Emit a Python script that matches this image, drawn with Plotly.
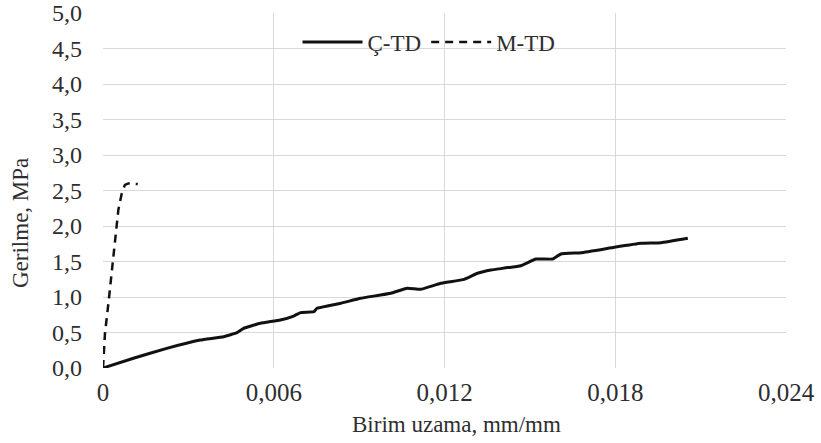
import plotly.graph_objects as go

# Ç-TD series (strain, stress)
ctd_strain = [0, 0.00107, 0.00224, 0.00342, 0.00424, 0.00471, 0.00494, 0.00553, 0.00623,
              0.00670, 0.00694, 0.00741, 0.00752, 0.00835, 0.00905, 0.01011, 0.01069,
              0.01116, 0.01187, 0.01269, 0.01316, 0.01363, 0.01468, 0.01521, 0.01580,
              0.01609, 0.01680, 0.01797, 0.01891, 0.01961, 0.02055]
ctd_stress = [0, 0.137, 0.277, 0.394, 0.441, 0.497, 0.559, 0.630, 0.676,
              0.732, 0.780, 0.793, 0.841, 0.911, 0.982, 1.052, 1.123,
              1.108, 1.193, 1.249, 1.334, 1.380, 1.441, 1.535, 1.535,
              1.606, 1.624, 1.700, 1.756, 1.765, 1.827]

# M-TD series
mtd_strain = [0, 0.00007, 0.00019, 0.00031, 0.00042, 0.00054, 0.00066, 0.00077, 0.00089, 0.00122]
mtd_stress = [0, 0.49, 0.91, 1.38, 1.85, 2.23, 2.46, 2.58, 2.60, 2.59]

x_tickvals = [0, 0.006, 0.012, 0.018, 0.024]
x_ticktext = ["0", "0,006", "0,012", "0,018", "0,024"]
y_tickvals = [0, 0.5, 1.0, 1.5, 2.0, 2.5, 3.0, 3.5, 4.0, 4.5, 5.0]

FONT = "Liberation Serif, Times New Roman, serif"
TXT = "#2e2e2e"

fig = go.Figure()
fig.add_trace(go.Scatter(x=ctd_strain, y=ctd_stress, mode="lines", name="Ç-TD",
                         line=dict(color="#111111", width=3, shape="spline", smoothing=0.3)))
fig.add_trace(go.Scatter(x=mtd_strain, y=mtd_stress, mode="lines", name="M-TD",
                         line=dict(color="#111111", width=2.5, dash="8px,6px")))

L, R, T, B = 103, 35, 13, 75
PW, PH = 821 - L - R, 443 - T - B

fig.update_layout(
    width=821, height=443,
    margin=dict(l=L, r=R, t=T, b=B),
    paper_bgcolor="white", plot_bgcolor="white",
    font=dict(family=FONT, size=23, color=TXT),
    separators=",.",
    showlegend=True,
    legend=dict(orientation="h", x=(429 - L) / PW, y=(368 - 42) / PH, xanchor="center", yanchor="middle",
                bgcolor="rgba(255,255,255,0)", font=dict(size=23, family=FONT, color=TXT),
                itemwidth=60, tracegroupgap=0),
    xaxis=dict(range=[0, 0.024], tickvals=x_tickvals, ticktext=x_ticktext,
               showgrid=True, gridcolor="#d9d9d9", gridwidth=1.3,
               zeroline=False, showline=False, ticks="", automargin=False,
               tickfont=dict(size=25, family=FONT, color=TXT),
               ticklabelstandoff=7),
    yaxis=dict(range=[0, 5.0], tickvals=y_tickvals, tickformat=".1f",
               showgrid=True, gridcolor="#d9d9d9", gridwidth=1.3,
               zeroline=False, showline=False, ticks="", automargin=False,
               tickfont=dict(size=24, family=FONT, color=TXT),
               ticklabelstandoff=20),
    annotations=[
        dict(text="Gerilme, MPa", textangle=-90, xref="paper", yref="paper",
             x=(20 - L) / PW, y=(368 - 223) / PH, xanchor="center", yanchor="middle",
             showarrow=False, font=dict(size=23, family=FONT, color=TXT)),
        dict(text="Birim uzama, mm/mm", xref="paper", yref="paper",
             x=(456 - L) / PW, y=(368 - 424) / PH, xanchor="center", yanchor="middle",
             showarrow=False, font=dict(size=23, family=FONT, color=TXT)),
    ],
)

fig.write_html("out.html")
